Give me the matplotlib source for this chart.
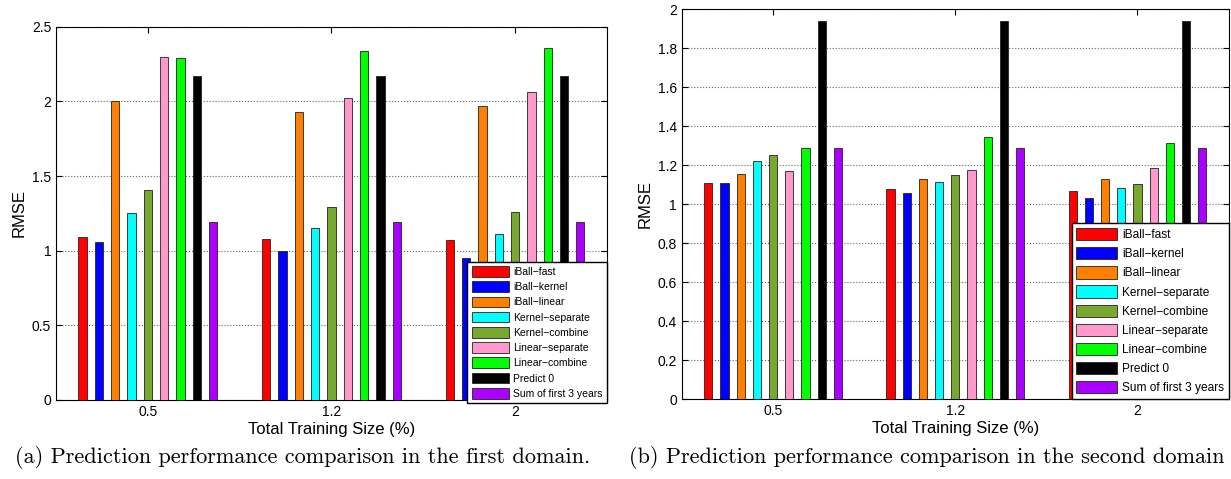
import matplotlib
matplotlib.use('Agg')
import matplotlib.pyplot as plt
import numpy as np

# 数据
sizes = ['0.5', '1.2', '2']
methods = ['iBall\u2212fast', 'iBall\u2212kernel', 'iBall\u2212linear', 'Kernel\u2212separate',
           'Kernel\u2212combine', 'Linear\u2212separate', 'Linear\u2212combine', 'Predict 0',
           'Sum of first 3 years']
colors = ['#ff0000', '#0000ff', '#ff8000', '#00ffff', '#77a830', '#ff99cc', '#00ff00', '#000000', '#aa00ff']

# 第一个领域 (每行一个方法, 三个训练规模)
rmse_a = [
    [1.09, 1.08, 1.07],
    [1.06, 1.00, 0.95],
    [2.00, 1.93, 1.97],
    [1.25, 1.15, 1.11],
    [1.41, 1.29, 1.26],
    [2.30, 2.02, 2.06],
    [2.29, 2.34, 2.36],
    [2.17, 2.17, 2.17],
    [1.195, 1.195, 1.195],
]
# 第二个领域
rmse_b = [
    [1.107, 1.078, 1.066],
    [1.110, 1.057, 1.030],
    [1.153, 1.131, 1.131],
    [1.223, 1.114, 1.080],
    [1.251, 1.150, 1.102],
    [1.170, 1.175, 1.184],
    [1.290, 1.346, 1.312],
    [1.940, 1.940, 1.940],
    [1.290, 1.290, 1.290],
]

yticks_a = [0, 0.5, 1, 1.5, 2, 2.5]
yticks_b = [0, 0.2, 0.4, 0.6, 0.8, 1, 1.2, 1.4, 1.6, 1.8, 2]

plt.rcParams['font.family'] = ['Liberation Sans', 'DejaVu Sans']


def draw(ax, rmse, yticks, leg_fs, leg_anchor, handlelen, labelsp):
    x = np.arange(1, len(sizes) + 1)
    step = 0.8 / len(methods)
    for i, (name, vals) in enumerate(zip(methods, rmse)):
        ax.bar(x + (i - 4) * step, vals, width=0.045, color=colors[i],
               edgecolor='#222222', linewidth=0.6, label=name, zorder=3)
    ax.set_xlim(0.5, 3.5)
    ax.set_ylim(yticks[0], yticks[-1])
    ax.set_xticks(x)
    ax.set_xticklabels(sizes)
    ax.set_yticks(yticks)
    ax.set_yticklabels(['%g' % t for t in yticks])
    ax.tick_params(direction='in', top=True, right=True, labelsize=10, length=4)
    ax.yaxis.grid(True, linestyle=':', color='#666666', linewidth=0.8, zorder=0)
    ax.set_axisbelow(True)
    ax.set_xlabel('Total Training Size (%)', fontsize=12, labelpad=2)
    ax.set_ylabel('RMSE', fontsize=12, labelpad=4)
    leg = ax.legend(loc='lower right', bbox_to_anchor=leg_anchor, fontsize=leg_fs,
                    fancybox=False, edgecolor='black', framealpha=1,
                    borderaxespad=0, handlelength=handlelen, handleheight=1.2,
                    labelspacing=labelsp, handletextpad=0.4, borderpad=0.4)
    leg.get_frame().set_linewidth(1.0)
    leg.set_zorder(5)


fig = plt.figure(figsize=(12.31, 4.79), dpi=100)
ax1 = fig.add_axes([0.0455, 0.165, 0.4475, 0.779])
ax2 = fig.add_axes([0.554, 0.167, 0.444, 0.814])

draw(ax1, rmse_a, yticks_a, 7.5, (1.0, -0.008), 3.6, 0.42)
draw(ax2, rmse_b, yticks_b, 8.6, (1.0, 0.0), 3.4, 0.5)

fig.text(0.246, 0.045, '(a) Prediction performance comparison in the first domain.',
         family='cmr10', fontsize=16, ha='center', va='center')
fig.text(0.753, 0.045, '(b) Prediction performance comparison in the second domain',
         family='cmr10', fontsize=16, ha='center', va='center')

fig.savefig('out.png', dpi=100)
